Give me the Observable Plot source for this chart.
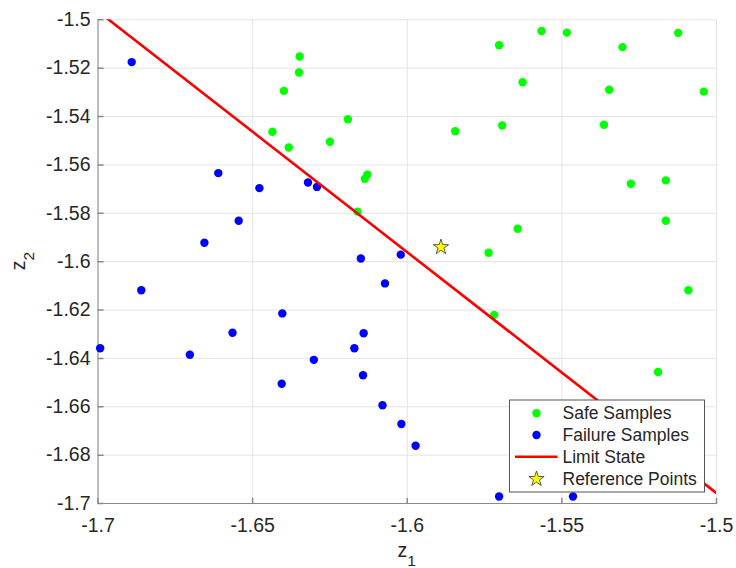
<!DOCTYPE html>
<html><head><meta charset="utf-8">
<script src="https://cdn.jsdelivr.net/npm/d3@7"></script>
<script src="https://cdn.jsdelivr.net/npm/@observablehq/plot@0.6"></script>
<style>
body{margin:0;background:#fff}
svg{font-family:"Liberation Sans",Arial,Helvetica,sans-serif}
</style>
</head><body><div id="chart"></div>
<script>
// ---- data ----
const safeX = [-1.6348,-1.6350,-1.6399,-1.6192,-1.6436,-1.6250,-1.6383,-1.6129,-1.6137,-1.6161,
               -1.5703,-1.5566,-1.5484,-1.5304,-1.5124,-1.5627,-1.5347,-1.5041,-1.5845,-1.5693,
               -1.5364,-1.5277,-1.5164,-1.5164,-1.5643,-1.5737,-1.5719,-1.5091,-1.5189];
const safeY = [-1.5152,-1.5218,-1.5294,-1.5411,-1.5463,-1.5504,-1.5528,-1.5640,-1.5657,-1.5793,
               -1.5105,-1.5046,-1.5053,-1.5113,-1.5054,-1.5258,-1.5289,-1.5297,-1.5461,-1.5437,
               -1.5434,-1.5678,-1.5664,-1.5831,-1.5864,-1.5963,-1.6220,-1.6118,-1.6456];
const failX = [-1.6891,-1.6611,-1.6478,-1.6321,-1.6292,-1.6545,-1.6656,-1.6150,-1.6021,-1.6860,
               -1.6993,-1.6703,-1.6565,-1.6404,-1.6406,-1.6302,-1.6072,-1.6141,-1.6171,-1.6143,
               -1.6080,-1.6019,-1.5973,-1.5703,-1.5464];
const failY = [-1.5175,-1.5634,-1.5696,-1.5673,-1.5691,-1.5831,-1.5922,-1.5987,-1.5971,-1.6118,
               -1.6358,-1.6385,-1.6294,-1.6214,-1.6505,-1.6406,-1.6090,-1.6296,-1.6358,-1.6470,
               -1.6594,-1.6671,-1.6761,-1.6971,-1.6971];
const limitX = [-1.7, -1.5];
const limitY = [-1.4965, -1.6957];
const refX = [-1.5891];
const refY = [-1.5940];
const xTicks = [-1.7, -1.65, -1.6, -1.55, -1.5];
const yTicks = [-1.7, -1.68, -1.66, -1.64, -1.62, -1.6, -1.58, -1.56, -1.54, -1.52, -1.5];
const seriesNames = ["Safe Samples", "Failure Samples", "Limit State", "Reference Points"];
const xLabel = ["z", "1"];
const yLabel = ["z", "2"];

// tables built from the arrays
const safe = safeX.map((x, i) => ({x, y: safeY[i]}));
const fail = failX.map((x, i) => ({x, y: failY[i]}));
const limit = limitX.map((x, i) => ({x, y: limitY[i]}));
const ref = refX.map((x, i) => ({x, y: refY[i]}));

const FONT = '"Liberation Sans", Arial, Helvetica, sans-serif';
const axisColor = "#8a8a8a";
const gridColor = "#e4e4e4";
const textColor = "#262626";
const fmt = d => String(d);
const tickShape = {draw(ctx, l) { ctx.moveTo(0, 0); ctx.lineTo(0, -l); }};

const plot = Plot.plot({
  width: 736, height: 568,
  marginLeft: 97.5, marginRight: 20, marginTop: 19.3, marginBottom: 65,
  style: {fontFamily: FONT, fontSize: "19.5px", color: textColor, background: "#fff", overflow: "visible"},
  x: {domain: [-1.7, -1.5], label: null},
  y: {domain: [-1.7, -1.5], label: null},
  marks: [
    Plot.gridX(xTicks, {stroke: gridColor, strokeOpacity: 1}),
    Plot.gridY(yTicks, {stroke: gridColor, strokeOpacity: 1}),
    Plot.ruleX([-1.7], {stroke: axisColor}),
    Plot.ruleY([-1.7], {stroke: axisColor}),
    Plot.vector(xTicks, {x: d => d, y: () => -1.7, length: 5, rotate: 0, anchor: "start", shape: tickShape, stroke: axisColor}),
    Plot.vector(yTicks, {x: () => -1.7, y: d => d, length: 5, rotate: 90, anchor: "start", shape: tickShape, stroke: axisColor}),
    Plot.dot(safe, {x: "x", y: "y", r: 4.2, fill: "#00ff00", stroke: "none"}),
    Plot.dot(fail, {x: "x", y: "y", r: 4.2, fill: "#0000ff", stroke: "none"}),
    Plot.line(limit, {x: "x", y: "y", stroke: "#ff0000", strokeWidth: 2.6, clip: true}),
    Plot.dot(ref, {x: "x", y: "y", symbol: "star", r: 4.8, fill: "#ffff00", stroke: "#333", strokeWidth: 0.8}),
    Plot.axisX(xTicks, {tickSize: 0, tickPadding: 15, tickFormat: fmt, fontSize: 19.5, fill: textColor}),
    Plot.axisY(yTicks, {tickSize: 0, tickPadding: 7.5, tickFormat: fmt, fontSize: 19.5, fill: textColor})
  ]
});
document.getElementById("chart").appendChild(plot);

// axis labels with subscripts
const svg = d3.select(plot);
const sx = plot.scale("x"), sy = plot.scale("y");
const cx = (sx.apply(-1.7) + sx.apply(-1.5)) / 2;
const cy = (sy.apply(-1.7) + sy.apply(-1.5)) / 2;
const xl = svg.append("text").attr("x", cx).attr("y", 557).attr("text-anchor", "middle")
  .attr("font-family", FONT).attr("font-size", 19.5).attr("fill", textColor);
xl.append("tspan").text(xLabel[0]);
xl.append("tspan").attr("font-size", 15.5).attr("dy", 9).text(xLabel[1]);
const yl = svg.append("text").attr("transform", `translate(25,${cy}) rotate(-90)`).attr("text-anchor", "middle")
  .attr("font-family", FONT).attr("font-size", 19.5).attr("fill", textColor);
yl.append("tspan").text(yLabel[0]);
yl.append("tspan").attr("font-size", 15.5).attr("dy", 9).text(yLabel[1]);

// legend
const L = 509.5, T = 400, W = 195, H = 92;
const rows = [13.3, 35, 56.7, 79];
const lg = svg.append("g").attr("font-family", FONT).attr("font-size", 17.5).attr("fill", textColor)
  .attr("text-anchor", "start");
lg.append("rect").attr("x", L).attr("y", T).attr("width", W).attr("height", H)
  .attr("fill", "#fff").attr("stroke", "#555").attr("stroke-width", 1);
const mx = L + 27;
lg.append("circle").attr("cx", mx).attr("cy", T + rows[0]).attr("r", 4.2).attr("fill", "#00ff00");
lg.append("circle").attr("cx", mx).attr("cy", T + rows[1]).attr("r", 4.2).attr("fill", "#0000ff");
lg.append("line").attr("x1", L + 5.5).attr("x2", L + 48).attr("y1", T + rows[2]).attr("y2", T + rows[2])
  .attr("stroke", "#ff0000").attr("stroke-width", 2.6);
lg.append("path").attr("d", d3.symbol(d3.symbolStar, Math.PI * 4.8 * 4.8)())
  .attr("transform", `translate(${mx},${T + rows[3]})`)
  .attr("fill", "#ffff00").attr("stroke", "#333").attr("stroke-width", 0.8);
seriesNames.forEach((s, i) => {
  lg.append("text").attr("x", L + 53).attr("y", T + rows[i]).attr("dy", "0.35em")
    .attr("text-anchor", "start").text(s);
});
</script>
</body></html>
